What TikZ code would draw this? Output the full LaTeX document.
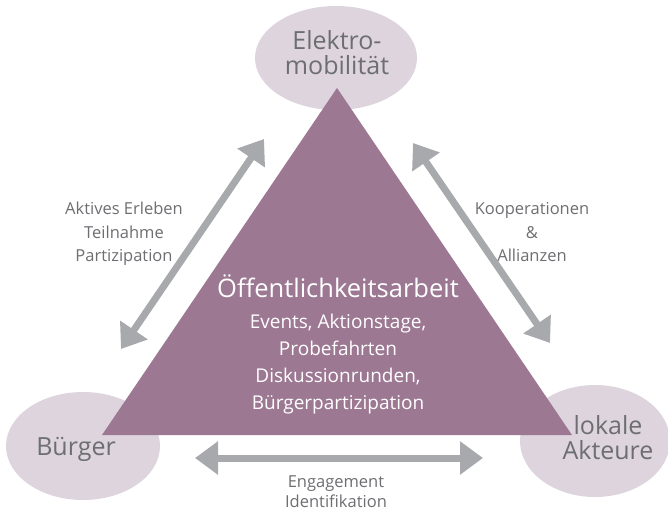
\documentclass[tikz,border=0pt]{standalone}
\usepackage{fontspec}
\setmainfont{Open Sans}
\usetikzlibrary{shapes.geometric,arrows.meta}

\definecolor{lila}{HTML}{9D7893}
\definecolor{hellila}{HTML}{DDD4DE}
\definecolor{pfeilgrau}{HTML}{A7A9AC}
\definecolor{textgrau}{HTML}{6D6E71}

\tikzset{
  blase/.style={ellipse, fill=hellila, inner sep=0pt},
  ecke/.style={text=textgrau, align=center, font=\fontsize{25}{25}\selectfont},
  pfeiltext/.style={text=textgrau, align=center, font=\fontsize{16.5}{23.5}\selectfont},
  doppelpfeil/.style={draw=pfeilgrau, line width=7pt,
    {Triangle[length=23pt,width=32pt]}-{Triangle[length=23pt,width=32pt]}},
}

\begin{document}
\begin{tikzpicture}[x=1pt, y=-1pt]
\useasboundingbox (0,0) rectangle (668,511);

% die drei Partner
\node[blase, minimum width=162pt, minimum height=104pt] (elektro) at (336,58) {};
\node[blase, minimum width=154pt, minimum height=108pt] (buerger) at (83,446) {};
\node[blase, minimum width=150pt, minimum height=112pt] (akteure) at (595,441) {};

% Dreieck in der Mitte
\coordinate (spitze) at (337,88);
\coordinate (links) at (102,435);
\coordinate (rechts) at (572,435);
\fill[lila] (spitze) -- (links) -- (rechts) -- cycle;

\node[ecke] (elektrotext) at (337,53) {Elektro-\\mobilität};
\node[ecke] (buergertext) at (76,449) {Bürger};
\node[ecke] (akteuretext) at (608,437.5) {lokale\\Akteure};

\node[text=white, font=\fontsize{25.5}{25.5}\selectfont] (oeffentlich) at (338,286) {Öffentlichkeitsarbeit};
\node[text=white, align=center, font=\fontsize{19}{27}\selectfont] (massnahmen) at (338,364.5)
  {Events, Aktionstage,\\Probefahrten\\Diskussionrunden,\\Bürgerpartizipation};

% Wechselwirkungen
\coordinate (lo) at (264,139);
\coordinate (lu) at (121,349);
\coordinate (ro) at (413,143);
\coordinate (ru) at (550,343);
\coordinate (ul) at (195,458);
\coordinate (ur) at (483,458);

\begin{scope}[doppelpfeil]
\draw (lo) -- (lu);
\draw (ro) -- (ru);
\draw (ul) -- (ur);
\end{scope}

\node[pfeiltext] (links text) at (124,234) {Aktives Erleben\\Teilnahme\\Partizipation};
\node[pfeiltext] (rechts text) at (532,232.5) {Kooperationen\\\&\\Allianzen};
\node[pfeiltext, font=\fontsize{16.5}{19.5}\selectfont] (unten text) at (336,491.5) {Engagement\\Identifikation};
\end{tikzpicture}
\end{document}
